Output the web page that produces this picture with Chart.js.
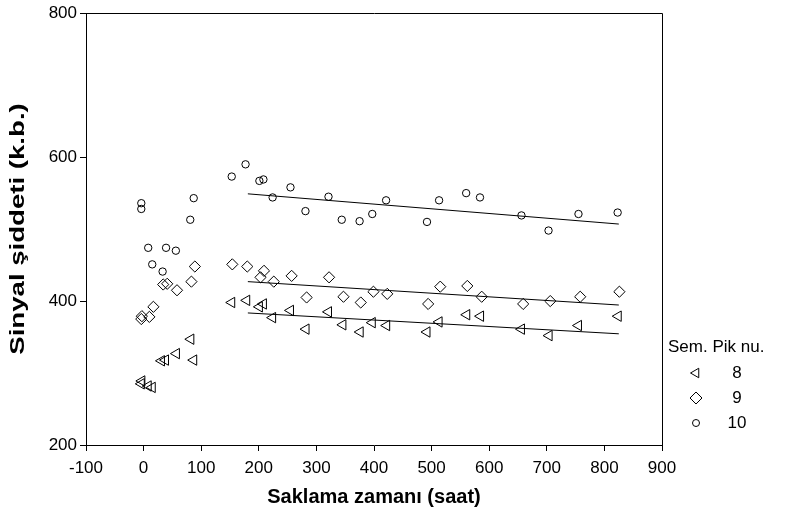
<!DOCTYPE html>
<html>
<head>
<meta charset="utf-8">
<title>Sinyal şiddeti</title>
<script src="https://cdn.jsdelivr.net/npm/chart.js@4.4.0/dist/chart.umd.min.js"></script>
<style>
    html, body { margin: 0; padding: 0; background: #fff; }
    #wrap { width: 790px; height: 515px; }
</style>
</head>
<body>
<div id="wrap"><canvas id="signalChart" width="790" height="515"></canvas></div>
<script>
// Saklama zamanı (saat) / sinyal şiddeti, semiquantitative peak nu. 8, 9, 10
const peak8X = [-4, -3, 8, 15, 31, 38, 57, 82, 87, 153, 179, 201, 208, 224, 255, 282, 321, 346, 376, 397, 422, 492, 513, 561, 585, 656, 704, 755, 824];
const peak8Y = [285, 289, 282, 280, 317, 318, 327, 347, 318, 398, 401, 392, 396, 377, 387, 361, 385, 367, 357, 370, 366, 357, 371, 381, 379, 361, 352, 366, 379];

const peak9X = [-4, -3, 10, 17, 34, 41, 58, 83, 89, 154, 180, 203, 209, 226, 257, 283, 322, 347, 377, 399, 423, 494, 515, 562, 587, 659, 706, 758, 826];
const peak9Y = [375, 379, 378, 392, 423, 424, 415, 427, 448, 451, 448, 433, 442, 427, 435, 405, 433, 406, 398, 413, 410, 396, 420, 421, 406, 396, 400, 406, 413];

const peak10X = [-4, -4, 8, 15, 33, 39, 56, 81, 87, 153, 177, 201, 208, 224, 255, 281, 321, 344, 375, 397, 421, 492, 513, 560, 584, 656, 703, 755, 823];
const peak10Y = [528, 536, 474, 451, 441, 474, 470, 513, 543, 573, 590, 567, 569, 544, 558, 525, 545, 513, 511, 521, 540, 510, 540, 550, 544, 519, 498, 521, 523];

// fitted lines, end points only
const fitX = [181, 825];
const fit8Y = [383.5, 354.5];
const fit9Y = [427, 394.5];
const fit10Y = [549, 507];

const xTitle = 'Saklama zamanı (saat)';
const yTitle = 'Sinyal şiddeti (k.b.)';
const legendTitle = 'Sem. Pik nu.';
const legendLabels = ['8', '9', '10'];

const fontFamily = '"Liberation Sans", Arial, sans-serif';

function toPoints(xs, ys) {
    return xs.map((x, i) => ({ x: x, y: ys[i] }));
}

function markerSet(xs, ys, style, radius, rotation) {
    return {
        data: toPoints(xs, ys),
        showLine: false,
        pointStyle: style,
        pointRadius: radius,
        pointHoverRadius: radius,
        rotation: rotation,
        pointBorderColor: '#000',
        pointBackgroundColor: 'rgba(0,0,0,0)',
        pointBorderWidth: 1
    };
}

function fitLine(ys) {
    return {
        data: toPoints(fitX, ys),
        showLine: true,
        borderColor: '#000',
        borderWidth: 1,
        pointRadius: 0,
        fill: false
    };
}

// small marker drawing for the legend
function drawMarker(ctx, kind, x, y) {
    ctx.beginPath();
    if (kind === 0) {
        const r = 5.5;
        ctx.moveTo(x - r, y);
        ctx.lineTo(x + r * 0.5, y - r * 0.866);
        ctx.lineTo(x + r * 0.5, y + r * 0.866);
        ctx.closePath();
    } else if (kind === 1) {
        const r = 6;
        ctx.moveTo(x, y - r);
        ctx.lineTo(x + r, y);
        ctx.lineTo(x, y + r);
        ctx.lineTo(x - r, y);
        ctx.closePath();
    } else {
        ctx.arc(x, y, 3.5, 0, Math.PI * 2);
    }
    ctx.stroke();
}

const framePlugin = {
    id: 'frame',
    afterDraw: function (chart) {
        const ctx = chart.ctx;
        const area = chart.chartArea;
        ctx.save();
        ctx.strokeStyle = '#000';
        ctx.lineWidth = 1;

        // top and right edges of the plot box
        ctx.beginPath();
        ctx.moveTo(Math.round(area.left) + 0.5, Math.round(area.top) + 0.5);
        ctx.lineTo(Math.round(area.right) + 0.5, Math.round(area.top) + 0.5);
        ctx.lineTo(Math.round(area.right) + 0.5, Math.round(area.bottom) + 0.5);
        ctx.stroke();

        ctx.fillStyle = '#000';

        // axis titles
        ctx.font = 'bold 20px ' + fontFamily;
        ctx.textAlign = 'center';
        ctx.textBaseline = 'middle';
        ctx.fillText(xTitle, (area.left + area.right) / 2, 497);

        ctx.save();
        ctx.translate(18, 229);
        ctx.rotate(-Math.PI / 2);
        ctx.scale(1.38, 1);
        ctx.fillText(yTitle, 0, 0);
        ctx.restore();

        // legend
        ctx.font = '17px ' + fontFamily;
        ctx.textAlign = 'left';
        ctx.fillText(legendTitle, 668, 347);
        ctx.textAlign = 'center';
        legendLabels.forEach(function (label, i) {
            const y = 373 + i * 25;
            drawMarker(ctx, i, 696, y);
            ctx.fillText(label, 737, y);
        });
        ctx.restore();
    }
};

const ctx = document.getElementById('signalChart').getContext('2d');

new Chart(ctx, {
    type: 'scatter',
    data: {
        datasets: [
            markerSet(peak8X, peak8Y, 'triangle', 6, -90),
            markerSet(peak9X, peak9Y, 'rectRot', 5.6, 0),
            markerSet(peak10X, peak10Y, 'circle', 3.7, 0),
            fitLine(fit8Y),
            fitLine(fit9Y),
            fitLine(fit10Y)
        ]
    },
    options: {
        responsive: false,
        animation: false,
        layout: { padding: { top: 13, right: 128, bottom: 0, left: 0 } },
        plugins: {
            legend: { display: false },
            tooltip: { enabled: false }
        },
        scales: {
            x: {
                type: 'linear',
                min: -100,
                max: 900,
                border: { color: '#000', width: 1 },
                grid: { drawOnChartArea: false, drawTicks: true, tickLength: 6, color: '#000' },
                ticks: {
                    stepSize: 100,
                    color: '#000',
                    padding: 7,
                    maxRotation: 0,
                    font: { family: fontFamily, size: 17 }
                },
                afterFit: function (scale) { scale.height = 70; }
            },
            y: {
                type: 'linear',
                min: 200,
                max: 800,
                border: { color: '#000', width: 1 },
                grid: { drawOnChartArea: false, drawTicks: true, tickLength: 6, color: '#000' },
                ticks: {
                    stepSize: 200,
                    color: '#000',
                    padding: 3,
                    font: { family: fontFamily, size: 17 }
                },
                afterFit: function (scale) { scale.width = 86; }
            }
        }
    },
    plugins: [framePlugin]
});
</script>
</body>
</html>
